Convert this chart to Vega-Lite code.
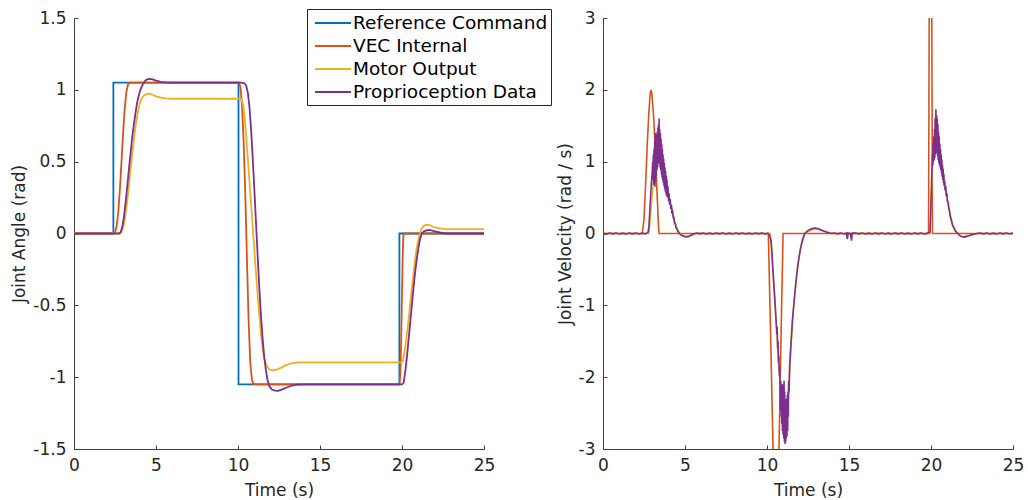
{
  "$schema": "https://vega.github.io/schema/vega-lite/v6.json",
  "background": "white",
  "padding": {"left": 10, "top": 8, "right": 5, "bottom": 5},
  "datasets": {
    "angle": [
      {"s": "Reference Command", "t": 0, "v": 0},
      {"s": "Reference Command", "t": 2.4, "v": 0},
      {"s": "Reference Command", "t": 2.401, "v": 1.05},
      {"s": "Reference Command", "t": 10.03, "v": 1.05},
      {"s": "Reference Command", "t": 10.031, "v": -1.05},
      {"s": "Reference Command", "t": 19.84, "v": -1.05},
      {"s": "Reference Command", "t": 19.841, "v": 0},
      {"s": "Reference Command", "t": 25, "v": 0},

      {"s": "VEC Internal", "t": 0, "v": 0},
      {"s": "VEC Internal", "t": 2.4, "v": 0},
      {"s": "VEC Internal", "t": 2.5, "v": 0.007},
      {"s": "VEC Internal", "t": 2.6, "v": 0.05},
      {"s": "VEC Internal", "t": 2.7, "v": 0.15},
      {"s": "VEC Internal", "t": 2.8, "v": 0.31},
      {"s": "VEC Internal", "t": 2.9, "v": 0.51},
      {"s": "VEC Internal", "t": 3.0, "v": 0.71},
      {"s": "VEC Internal", "t": 3.1, "v": 0.88},
      {"s": "VEC Internal", "t": 3.2, "v": 0.99},
      {"s": "VEC Internal", "t": 3.3, "v": 1.04},
      {"s": "VEC Internal", "t": 3.42, "v": 1.05},
      {"s": "VEC Internal", "t": 10.06, "v": 1.05},
      {"s": "VEC Internal", "t": 10.15, "v": 1.02},
      {"s": "VEC Internal", "t": 10.25, "v": 0.88},
      {"s": "VEC Internal", "t": 10.35, "v": 0.62},
      {"s": "VEC Internal", "t": 10.45, "v": 0.25},
      {"s": "VEC Internal", "t": 10.55, "v": -0.2},
      {"s": "VEC Internal", "t": 10.65, "v": -0.62},
      {"s": "VEC Internal", "t": 10.75, "v": -0.9},
      {"s": "VEC Internal", "t": 10.85, "v": -1.02},
      {"s": "VEC Internal", "t": 10.95, "v": -1.05},
      {"s": "VEC Internal", "t": 19.85, "v": -1.05},
      {"s": "VEC Internal", "t": 19.9, "v": -0.97},
      {"s": "VEC Internal", "t": 19.95, "v": -0.75},
      {"s": "VEC Internal", "t": 20.0, "v": -0.42},
      {"s": "VEC Internal", "t": 20.05, "v": -0.12},
      {"s": "VEC Internal", "t": 20.09, "v": 0},
      {"s": "VEC Internal", "t": 25, "v": 0},

      {"s": "Motor Output", "t": 0, "v": 0},
      {"s": "Motor Output", "t": 2.8, "v": 0},
      {"s": "Motor Output", "t": 2.9, "v": 0.01},
      {"s": "Motor Output", "t": 3.0, "v": 0.04},
      {"s": "Motor Output", "t": 3.1, "v": 0.1},
      {"s": "Motor Output", "t": 3.2, "v": 0.18},
      {"s": "Motor Output", "t": 3.3, "v": 0.28},
      {"s": "Motor Output", "t": 3.4, "v": 0.39},
      {"s": "Motor Output", "t": 3.5, "v": 0.5},
      {"s": "Motor Output", "t": 3.6, "v": 0.6},
      {"s": "Motor Output", "t": 3.7, "v": 0.7},
      {"s": "Motor Output", "t": 3.8, "v": 0.78},
      {"s": "Motor Output", "t": 3.9, "v": 0.85},
      {"s": "Motor Output", "t": 4.0, "v": 0.9},
      {"s": "Motor Output", "t": 4.1, "v": 0.935},
      {"s": "Motor Output", "t": 4.25, "v": 0.96},
      {"s": "Motor Output", "t": 4.45, "v": 0.972},
      {"s": "Motor Output", "t": 4.6, "v": 0.973},
      {"s": "Motor Output", "t": 4.8, "v": 0.966},
      {"s": "Motor Output", "t": 5.0, "v": 0.955},
      {"s": "Motor Output", "t": 5.3, "v": 0.945},
      {"s": "Motor Output", "t": 5.6, "v": 0.94},
      {"s": "Motor Output", "t": 6.0, "v": 0.938},
      {"s": "Motor Output", "t": 10.1, "v": 0.938},
      {"s": "Motor Output", "t": 10.2, "v": 0.933},
      {"s": "Motor Output", "t": 10.3, "v": 0.9},
      {"s": "Motor Output", "t": 10.4, "v": 0.82},
      {"s": "Motor Output", "t": 10.5, "v": 0.68},
      {"s": "Motor Output", "t": 10.6, "v": 0.52},
      {"s": "Motor Output", "t": 10.7, "v": 0.36},
      {"s": "Motor Output", "t": 10.8, "v": 0.2},
      {"s": "Motor Output", "t": 10.9, "v": 0.04},
      {"s": "Motor Output", "t": 11.0, "v": -0.12},
      {"s": "Motor Output", "t": 11.1, "v": -0.28},
      {"s": "Motor Output", "t": 11.2, "v": -0.43},
      {"s": "Motor Output", "t": 11.3, "v": -0.57},
      {"s": "Motor Output", "t": 11.4, "v": -0.7},
      {"s": "Motor Output", "t": 11.5, "v": -0.8},
      {"s": "Motor Output", "t": 11.6, "v": -0.87},
      {"s": "Motor Output", "t": 11.75, "v": -0.92},
      {"s": "Motor Output", "t": 11.9, "v": -0.945},
      {"s": "Motor Output", "t": 12.1, "v": -0.952},
      {"s": "Motor Output", "t": 12.3, "v": -0.95},
      {"s": "Motor Output", "t": 12.6, "v": -0.935},
      {"s": "Motor Output", "t": 12.9, "v": -0.918},
      {"s": "Motor Output", "t": 13.2, "v": -0.905},
      {"s": "Motor Output", "t": 13.6, "v": -0.898},
      {"s": "Motor Output", "t": 14.0, "v": -0.897},
      {"s": "Motor Output", "t": 19.95, "v": -0.897},
      {"s": "Motor Output", "t": 20.04, "v": -0.89},
      {"s": "Motor Output", "t": 20.1, "v": -0.86},
      {"s": "Motor Output", "t": 20.2, "v": -0.79},
      {"s": "Motor Output", "t": 20.3, "v": -0.7},
      {"s": "Motor Output", "t": 20.4, "v": -0.6},
      {"s": "Motor Output", "t": 20.5, "v": -0.49},
      {"s": "Motor Output", "t": 20.6, "v": -0.38},
      {"s": "Motor Output", "t": 20.7, "v": -0.28},
      {"s": "Motor Output", "t": 20.8, "v": -0.18},
      {"s": "Motor Output", "t": 20.9, "v": -0.1},
      {"s": "Motor Output", "t": 21.0, "v": -0.04},
      {"s": "Motor Output", "t": 21.1, "v": 0.0},
      {"s": "Motor Output", "t": 21.2, "v": 0.035},
      {"s": "Motor Output", "t": 21.35, "v": 0.055},
      {"s": "Motor Output", "t": 21.5, "v": 0.062},
      {"s": "Motor Output", "t": 21.65, "v": 0.06},
      {"s": "Motor Output", "t": 21.8, "v": 0.052},
      {"s": "Motor Output", "t": 22.0, "v": 0.042},
      {"s": "Motor Output", "t": 22.3, "v": 0.035},
      {"s": "Motor Output", "t": 22.7, "v": 0.031},
      {"s": "Motor Output", "t": 25, "v": 0.03},

      {"s": "Proprioception Data", "t": 0, "v": 0},
      {"s": "Proprioception Data", "t": 2.75, "v": 0},
      {"s": "Proprioception Data", "t": 2.85, "v": 0.01},
      {"s": "Proprioception Data", "t": 2.95, "v": 0.05},
      {"s": "Proprioception Data", "t": 3.05, "v": 0.12},
      {"s": "Proprioception Data", "t": 3.15, "v": 0.22},
      {"s": "Proprioception Data", "t": 3.25, "v": 0.33},
      {"s": "Proprioception Data", "t": 3.35, "v": 0.45},
      {"s": "Proprioception Data", "t": 3.45, "v": 0.56},
      {"s": "Proprioception Data", "t": 3.55, "v": 0.67},
      {"s": "Proprioception Data", "t": 3.65, "v": 0.76},
      {"s": "Proprioception Data", "t": 3.75, "v": 0.84},
      {"s": "Proprioception Data", "t": 3.85, "v": 0.91},
      {"s": "Proprioception Data", "t": 3.95, "v": 0.96},
      {"s": "Proprioception Data", "t": 4.05, "v": 1.0},
      {"s": "Proprioception Data", "t": 4.2, "v": 1.04},
      {"s": "Proprioception Data", "t": 4.35, "v": 1.065},
      {"s": "Proprioception Data", "t": 4.5, "v": 1.074},
      {"s": "Proprioception Data", "t": 4.65, "v": 1.076},
      {"s": "Proprioception Data", "t": 4.8, "v": 1.072},
      {"s": "Proprioception Data", "t": 5.0, "v": 1.064},
      {"s": "Proprioception Data", "t": 5.3, "v": 1.056},
      {"s": "Proprioception Data", "t": 5.6, "v": 1.052},
      {"s": "Proprioception Data", "t": 6.0, "v": 1.05},
      {"s": "Proprioception Data", "t": 10.2, "v": 1.05},
      {"s": "Proprioception Data", "t": 10.4, "v": 1.045},
      {"s": "Proprioception Data", "t": 10.5, "v": 1.03},
      {"s": "Proprioception Data", "t": 10.6, "v": 0.98},
      {"s": "Proprioception Data", "t": 10.7, "v": 0.88},
      {"s": "Proprioception Data", "t": 10.8, "v": 0.72},
      {"s": "Proprioception Data", "t": 10.9, "v": 0.52},
      {"s": "Proprioception Data", "t": 11.0, "v": 0.3},
      {"s": "Proprioception Data", "t": 11.1, "v": 0.07},
      {"s": "Proprioception Data", "t": 11.2, "v": -0.16},
      {"s": "Proprioception Data", "t": 11.3, "v": -0.38},
      {"s": "Proprioception Data", "t": 11.4, "v": -0.57},
      {"s": "Proprioception Data", "t": 11.5, "v": -0.73},
      {"s": "Proprioception Data", "t": 11.6, "v": -0.86},
      {"s": "Proprioception Data", "t": 11.7, "v": -0.95},
      {"s": "Proprioception Data", "t": 11.8, "v": -1.02},
      {"s": "Proprioception Data", "t": 11.9, "v": -1.06},
      {"s": "Proprioception Data", "t": 12.05, "v": -1.085},
      {"s": "Proprioception Data", "t": 12.25, "v": -1.094},
      {"s": "Proprioception Data", "t": 12.45, "v": -1.095},
      {"s": "Proprioception Data", "t": 12.7, "v": -1.085},
      {"s": "Proprioception Data", "t": 13.0, "v": -1.07},
      {"s": "Proprioception Data", "t": 13.3, "v": -1.058},
      {"s": "Proprioception Data", "t": 13.6, "v": -1.052},
      {"s": "Proprioception Data", "t": 14.0, "v": -1.05},
      {"s": "Proprioception Data", "t": 20.0, "v": -1.05},
      {"s": "Proprioception Data", "t": 20.1, "v": -1.04},
      {"s": "Proprioception Data", "t": 20.2, "v": -0.96},
      {"s": "Proprioception Data", "t": 20.3, "v": -0.86},
      {"s": "Proprioception Data", "t": 20.4, "v": -0.74},
      {"s": "Proprioception Data", "t": 20.5, "v": -0.62},
      {"s": "Proprioception Data", "t": 20.6, "v": -0.5},
      {"s": "Proprioception Data", "t": 20.7, "v": -0.38},
      {"s": "Proprioception Data", "t": 20.8, "v": -0.27},
      {"s": "Proprioception Data", "t": 20.9, "v": -0.18},
      {"s": "Proprioception Data", "t": 21.0, "v": -0.1},
      {"s": "Proprioception Data", "t": 21.1, "v": -0.04},
      {"s": "Proprioception Data", "t": 21.2, "v": 0.0},
      {"s": "Proprioception Data", "t": 21.35, "v": 0.015},
      {"s": "Proprioception Data", "t": 21.5, "v": 0.022},
      {"s": "Proprioception Data", "t": 21.65, "v": 0.025},
      {"s": "Proprioception Data", "t": 21.8, "v": 0.022},
      {"s": "Proprioception Data", "t": 22.0, "v": 0.015},
      {"s": "Proprioception Data", "t": 22.3, "v": 0.007},
      {"s": "Proprioception Data", "t": 22.7, "v": 0.0},
      {"s": "Proprioception Data", "t": 25, "v": 0.0}
    ],
    "vel": [
      {"s": "VEC Internal", "t": 0, "v": 0},
      {"s": "VEC Internal", "t": 2.4, "v": 0},
      {"s": "VEC Internal", "t": 2.5, "v": 0.2},
      {"s": "VEC Internal", "t": 2.6, "v": 0.7},
      {"s": "VEC Internal", "t": 2.7, "v": 1.25},
      {"s": "VEC Internal", "t": 2.8, "v": 1.7},
      {"s": "VEC Internal", "t": 2.88, "v": 1.95},
      {"s": "VEC Internal", "t": 2.93, "v": 2.0},
      {"s": "VEC Internal", "t": 2.98, "v": 1.95},
      {"s": "VEC Internal", "t": 3.08, "v": 1.65},
      {"s": "VEC Internal", "t": 3.18, "v": 1.2},
      {"s": "VEC Internal", "t": 3.28, "v": 0.65},
      {"s": "VEC Internal", "t": 3.38, "v": 0.12},
      {"s": "VEC Internal", "t": 3.42, "v": 0},
      {"s": "VEC Internal", "t": 10.08, "v": 0},
      {"s": "VEC Internal", "t": 10.2, "v": -1.2},
      {"s": "VEC Internal", "t": 10.37, "v": -3.0},
      {"s": "VEC Internal", "t": 10.5, "v": -4.4},
      {"s": "VEC Internal", "t": 10.56, "v": -4.8},
      {"s": "VEC Internal", "t": 10.62, "v": -4.5},
      {"s": "VEC Internal", "t": 10.73, "v": -3.0},
      {"s": "VEC Internal", "t": 10.85, "v": -1.5},
      {"s": "VEC Internal", "t": 10.98, "v": 0},
      {"s": "VEC Internal", "t": 19.85, "v": 0},
      {"s": "VEC Internal", "t": 19.97, "v": 8.75},
      {"s": "VEC Internal", "t": 20.09, "v": 0},
      {"s": "VEC Internal", "t": 25, "v": 0},

      {"s": "Motor Output", "t": 0, "v": 0},
      {"s": "Motor Output", "t": 2.8, "v": 0},
      {"s": "Motor Output", "t": 3.1, "v": 0.8},
      {"s": "Motor Output", "t": 3.4, "v": 1.25},
      {"s": "Motor Output", "t": 3.6, "v": 1.0},
      {"s": "Motor Output", "t": 3.8, "v": 0.72},
      {"s": "Motor Output", "t": 4.0, "v": 0.52},
      {"s": "Motor Output", "t": 4.2, "v": 0.35},
      {"s": "Motor Output", "t": 4.4, "v": 0.15},
      {"s": "Motor Output", "t": 4.6, "v": 0.03},
      {"s": "Motor Output", "t": 4.8, "v": -0.02},
      {"s": "Motor Output", "t": 5.0, "v": -0.045},
      {"s": "Motor Output", "t": 5.2, "v": -0.045},
      {"s": "Motor Output", "t": 5.4, "v": -0.025},
      {"s": "Motor Output", "t": 5.7, "v": 0},
      {"s": "Motor Output", "t": 10.2, "v": 0},
      {"s": "Motor Output", "t": 10.5, "v": -1.0},
      {"s": "Motor Output", "t": 10.7, "v": -1.75},
      {"s": "Motor Output", "t": 10.9, "v": -2.3},
      {"s": "Motor Output", "t": 11.1, "v": -2.5},
      {"s": "Motor Output", "t": 11.3, "v": -2.3},
      {"s": "Motor Output", "t": 11.45, "v": -1.6},
      {"s": "Motor Output", "t": 11.65, "v": -0.95},
      {"s": "Motor Output", "t": 11.85, "v": -0.5},
      {"s": "Motor Output", "t": 12.05, "v": -0.2},
      {"s": "Motor Output", "t": 12.3, "v": 0},
      {"s": "Motor Output", "t": 12.9, "v": 0.07},
      {"s": "Motor Output", "t": 13.5, "v": 0.03},
      {"s": "Motor Output", "t": 14.0, "v": 0},
      {"s": "Motor Output", "t": 19.94, "v": 0},
      {"s": "Motor Output", "t": 20.1, "v": 1.0},
      {"s": "Motor Output", "t": 20.3, "v": 1.35},
      {"s": "Motor Output", "t": 20.5, "v": 1.15},
      {"s": "Motor Output", "t": 20.7, "v": 0.88},
      {"s": "Motor Output", "t": 20.9, "v": 0.6},
      {"s": "Motor Output", "t": 21.1, "v": 0.35},
      {"s": "Motor Output", "t": 21.3, "v": 0.13},
      {"s": "Motor Output", "t": 21.5, "v": 0.03},
      {"s": "Motor Output", "t": 21.8, "v": -0.035},
      {"s": "Motor Output", "t": 22.0, "v": -0.05},
      {"s": "Motor Output", "t": 22.3, "v": -0.035},
      {"s": "Motor Output", "t": 22.8, "v": 0},
      {"s": "Motor Output", "t": 25, "v": 0},

      {"s": "Proprioception Data", "t": 0, "v": 0.006},
      {"s": "Proprioception Data", "t": 0.2, "v": -0.006},
      {"s": "Proprioception Data", "t": 0.4, "v": 0.007},
      {"s": "Proprioception Data", "t": 0.6, "v": -0.005},
      {"s": "Proprioception Data", "t": 0.8, "v": 0.006},
      {"s": "Proprioception Data", "t": 1.0, "v": -0.007},
      {"s": "Proprioception Data", "t": 1.2, "v": 0.005},
      {"s": "Proprioception Data", "t": 1.4, "v": -0.006},
      {"s": "Proprioception Data", "t": 1.6, "v": 0.007},
      {"s": "Proprioception Data", "t": 1.8, "v": -0.005},
      {"s": "Proprioception Data", "t": 2.0, "v": 0.006},
      {"s": "Proprioception Data", "t": 2.2, "v": -0.006},
      {"s": "Proprioception Data", "t": 2.4, "v": 0.005},
      {"s": "Proprioception Data", "t": 2.6, "v": -0.005},
      {"s": "Proprioception Data", "t": 2.75, "v": 0.02},
      {"s": "Proprioception Data", "t": 2.8, "v": 0.1},
      {"s": "Proprioception Data", "t": 2.85, "v": 0.3},
      {"s": "Proprioception Data", "t": 2.9, "v": 0.5},
      {"s": "Proprioception Data", "t": 2.95, "v": 0.7},
      {"s": "Proprioception Data", "t": 3.0, "v": 0.85},
      {"s": "Proprioception Data", "t": 3.03, "v": 1.0},
      {"s": "Proprioception Data", "t": 3.05, "v": 0.75},
      {"s": "Proprioception Data", "t": 3.07, "v": 1.1},
      {"s": "Proprioception Data", "t": 3.09, "v": 0.68},
      {"s": "Proprioception Data", "t": 3.11, "v": 1.18},
      {"s": "Proprioception Data", "t": 3.13, "v": 0.7},
      {"s": "Proprioception Data", "t": 3.15, "v": 1.28},
      {"s": "Proprioception Data", "t": 3.17, "v": 0.65},
      {"s": "Proprioception Data", "t": 3.19, "v": 1.4},
      {"s": "Proprioception Data", "t": 3.21, "v": 0.72},
      {"s": "Proprioception Data", "t": 3.23, "v": 1.35},
      {"s": "Proprioception Data", "t": 3.25, "v": 0.8},
      {"s": "Proprioception Data", "t": 3.27, "v": 1.38},
      {"s": "Proprioception Data", "t": 3.29, "v": 0.88},
      {"s": "Proprioception Data", "t": 3.31, "v": 1.42},
      {"s": "Proprioception Data", "t": 3.33, "v": 0.92},
      {"s": "Proprioception Data", "t": 3.35, "v": 1.48},
      {"s": "Proprioception Data", "t": 3.37, "v": 0.98},
      {"s": "Proprioception Data", "t": 3.39, "v": 1.52},
      {"s": "Proprioception Data", "t": 3.41, "v": 1.0},
      {"s": "Proprioception Data", "t": 3.42, "v": 1.6},
      {"s": "Proprioception Data", "t": 3.44, "v": 0.97},
      {"s": "Proprioception Data", "t": 3.46, "v": 1.45},
      {"s": "Proprioception Data", "t": 3.48, "v": 0.92},
      {"s": "Proprioception Data", "t": 3.5, "v": 1.4},
      {"s": "Proprioception Data", "t": 3.52, "v": 0.88},
      {"s": "Proprioception Data", "t": 3.54, "v": 1.32},
      {"s": "Proprioception Data", "t": 3.56, "v": 0.82},
      {"s": "Proprioception Data", "t": 3.58, "v": 1.25},
      {"s": "Proprioception Data", "t": 3.6, "v": 0.78},
      {"s": "Proprioception Data", "t": 3.62, "v": 1.18},
      {"s": "Proprioception Data", "t": 3.64, "v": 0.74},
      {"s": "Proprioception Data", "t": 3.66, "v": 1.1},
      {"s": "Proprioception Data", "t": 3.68, "v": 0.7},
      {"s": "Proprioception Data", "t": 3.7, "v": 1.04},
      {"s": "Proprioception Data", "t": 3.72, "v": 0.66},
      {"s": "Proprioception Data", "t": 3.74, "v": 0.98},
      {"s": "Proprioception Data", "t": 3.76, "v": 0.62},
      {"s": "Proprioception Data", "t": 3.78, "v": 0.92},
      {"s": "Proprioception Data", "t": 3.8, "v": 0.58},
      {"s": "Proprioception Data", "t": 3.82, "v": 0.87},
      {"s": "Proprioception Data", "t": 3.84, "v": 0.55},
      {"s": "Proprioception Data", "t": 3.86, "v": 0.8},
      {"s": "Proprioception Data", "t": 3.88, "v": 0.52},
      {"s": "Proprioception Data", "t": 3.9, "v": 0.75},
      {"s": "Proprioception Data", "t": 3.93, "v": 0.5},
      {"s": "Proprioception Data", "t": 3.96, "v": 0.66},
      {"s": "Proprioception Data", "t": 4.0, "v": 0.45},
      {"s": "Proprioception Data", "t": 4.03, "v": 0.56},
      {"s": "Proprioception Data", "t": 4.06, "v": 0.4},
      {"s": "Proprioception Data", "t": 4.1, "v": 0.48},
      {"s": "Proprioception Data", "t": 4.13, "v": 0.34},
      {"s": "Proprioception Data", "t": 4.17, "v": 0.4},
      {"s": "Proprioception Data", "t": 4.2, "v": 0.28},
      {"s": "Proprioception Data", "t": 4.24, "v": 0.3},
      {"s": "Proprioception Data", "t": 4.28, "v": 0.22},
      {"s": "Proprioception Data", "t": 4.32, "v": 0.22},
      {"s": "Proprioception Data", "t": 4.36, "v": 0.14},
      {"s": "Proprioception Data", "t": 4.4, "v": 0.14},
      {"s": "Proprioception Data", "t": 4.45, "v": 0.08},
      {"s": "Proprioception Data", "t": 4.5, "v": 0.06},
      {"s": "Proprioception Data", "t": 4.6, "v": 0.02},
      {"s": "Proprioception Data", "t": 4.7, "v": -0.01},
      {"s": "Proprioception Data", "t": 4.8, "v": -0.025},
      {"s": "Proprioception Data", "t": 4.9, "v": -0.035},
      {"s": "Proprioception Data", "t": 5.0, "v": -0.045},
      {"s": "Proprioception Data", "t": 5.1, "v": -0.04},
      {"s": "Proprioception Data", "t": 5.2, "v": -0.045},
      {"s": "Proprioception Data", "t": 5.3, "v": -0.03},
      {"s": "Proprioception Data", "t": 5.4, "v": -0.02},
      {"s": "Proprioception Data", "t": 5.5, "v": -0.01},
      {"s": "Proprioception Data", "t": 5.6, "v": 0.0},
      {"s": "Proprioception Data", "t": 5.75, "v": 0.007},
      {"s": "Proprioception Data", "t": 5.9, "v": -0.005},
      {"s": "Proprioception Data", "t": 6.1, "v": 0.006},
      {"s": "Proprioception Data", "t": 6.3, "v": -0.006},
      {"s": "Proprioception Data", "t": 6.5, "v": 0.005},
      {"s": "Proprioception Data", "t": 6.7, "v": -0.007},
      {"s": "Proprioception Data", "t": 6.9, "v": 0.006},
      {"s": "Proprioception Data", "t": 7.1, "v": -0.005},
      {"s": "Proprioception Data", "t": 7.3, "v": 0.007},
      {"s": "Proprioception Data", "t": 7.5, "v": -0.006},
      {"s": "Proprioception Data", "t": 7.7, "v": 0.005},
      {"s": "Proprioception Data", "t": 7.9, "v": -0.006},
      {"s": "Proprioception Data", "t": 8.1, "v": 0.006},
      {"s": "Proprioception Data", "t": 8.3, "v": -0.005},
      {"s": "Proprioception Data", "t": 8.5, "v": 0.007},
      {"s": "Proprioception Data", "t": 8.7, "v": -0.006},
      {"s": "Proprioception Data", "t": 8.9, "v": 0.005},
      {"s": "Proprioception Data", "t": 9.1, "v": -0.007},
      {"s": "Proprioception Data", "t": 9.3, "v": 0.006},
      {"s": "Proprioception Data", "t": 9.5, "v": -0.005},
      {"s": "Proprioception Data", "t": 9.7, "v": 0.006},
      {"s": "Proprioception Data", "t": 9.9, "v": -0.006},
      {"s": "Proprioception Data", "t": 10.05, "v": 0.005},
      {"s": "Proprioception Data", "t": 10.15, "v": -0.03},
      {"s": "Proprioception Data", "t": 10.25, "v": -0.1},
      {"s": "Proprioception Data", "t": 10.3, "v": -0.25},
      {"s": "Proprioception Data", "t": 10.35, "v": -0.45},
      {"s": "Proprioception Data", "t": 10.43, "v": -0.75},
      {"s": "Proprioception Data", "t": 10.5, "v": -1.0},
      {"s": "Proprioception Data", "t": 10.55, "v": -1.2},
      {"s": "Proprioception Data", "t": 10.6, "v": -1.4},
      {"s": "Proprioception Data", "t": 10.62, "v": -1.3},
      {"s": "Proprioception Data", "t": 10.65, "v": -1.6},
      {"s": "Proprioception Data", "t": 10.67, "v": -1.5},
      {"s": "Proprioception Data", "t": 10.7, "v": -1.8},
      {"s": "Proprioception Data", "t": 10.72, "v": -1.7},
      {"s": "Proprioception Data", "t": 10.75, "v": -1.98},
      {"s": "Proprioception Data", "t": 10.77, "v": -1.85},
      {"s": "Proprioception Data", "t": 10.8, "v": -2.2},
      {"s": "Proprioception Data", "t": 10.82, "v": -2.45},
      {"s": "Proprioception Data", "t": 10.84, "v": -2.05},
      {"s": "Proprioception Data", "t": 10.86, "v": -2.55},
      {"s": "Proprioception Data", "t": 10.88, "v": -2.1},
      {"s": "Proprioception Data", "t": 10.9, "v": -2.65},
      {"s": "Proprioception Data", "t": 10.92, "v": -2.1},
      {"s": "Proprioception Data", "t": 10.94, "v": -2.75},
      {"s": "Proprioception Data", "t": 10.96, "v": -2.15},
      {"s": "Proprioception Data", "t": 10.98, "v": -2.8},
      {"s": "Proprioception Data", "t": 11.0, "v": -2.1},
      {"s": "Proprioception Data", "t": 11.02, "v": -2.85},
      {"s": "Proprioception Data", "t": 11.04, "v": -2.05},
      {"s": "Proprioception Data", "t": 11.06, "v": -2.9},
      {"s": "Proprioception Data", "t": 11.08, "v": -2.2},
      {"s": "Proprioception Data", "t": 11.1, "v": -2.93},
      {"s": "Proprioception Data", "t": 11.12, "v": -2.3},
      {"s": "Proprioception Data", "t": 11.14, "v": -2.9},
      {"s": "Proprioception Data", "t": 11.16, "v": -2.35},
      {"s": "Proprioception Data", "t": 11.18, "v": -2.85},
      {"s": "Proprioception Data", "t": 11.2, "v": -2.3},
      {"s": "Proprioception Data", "t": 11.22, "v": -2.82},
      {"s": "Proprioception Data", "t": 11.24, "v": -2.25},
      {"s": "Proprioception Data", "t": 11.26, "v": -2.75},
      {"s": "Proprioception Data", "t": 11.28, "v": -2.2},
      {"s": "Proprioception Data", "t": 11.3, "v": -2.55},
      {"s": "Proprioception Data", "t": 11.32, "v": -2.05},
      {"s": "Proprioception Data", "t": 11.35, "v": -2.2},
      {"s": "Proprioception Data", "t": 11.38, "v": -1.85},
      {"s": "Proprioception Data", "t": 11.42, "v": -1.7},
      {"s": "Proprioception Data", "t": 11.47, "v": -1.5},
      {"s": "Proprioception Data", "t": 11.55, "v": -1.2},
      {"s": "Proprioception Data", "t": 11.65, "v": -0.95},
      {"s": "Proprioception Data", "t": 11.75, "v": -0.7},
      {"s": "Proprioception Data", "t": 11.85, "v": -0.5},
      {"s": "Proprioception Data", "t": 11.95, "v": -0.33},
      {"s": "Proprioception Data", "t": 12.05, "v": -0.2},
      {"s": "Proprioception Data", "t": 12.15, "v": -0.1},
      {"s": "Proprioception Data", "t": 12.3, "v": 0.0},
      {"s": "Proprioception Data", "t": 12.5, "v": 0.04},
      {"s": "Proprioception Data", "t": 12.7, "v": 0.065},
      {"s": "Proprioception Data", "t": 12.9, "v": 0.075},
      {"s": "Proprioception Data", "t": 13.1, "v": 0.07},
      {"s": "Proprioception Data", "t": 13.3, "v": 0.05},
      {"s": "Proprioception Data", "t": 13.5, "v": 0.03},
      {"s": "Proprioception Data", "t": 13.7, "v": 0.015},
      {"s": "Proprioception Data", "t": 13.9, "v": 0.0},
      {"s": "Proprioception Data", "t": 14.1, "v": 0.006},
      {"s": "Proprioception Data", "t": 14.3, "v": -0.005},
      {"s": "Proprioception Data", "t": 14.5, "v": 0.007},
      {"s": "Proprioception Data", "t": 14.7, "v": -0.006},
      {"s": "Proprioception Data", "t": 14.85, "v": 0.005},
      {"s": "Proprioception Data", "t": 14.9, "v": -0.08},
      {"s": "Proprioception Data", "t": 14.95, "v": 0.005},
      {"s": "Proprioception Data", "t": 15.1, "v": -0.005},
      {"s": "Proprioception Data", "t": 15.15, "v": -0.1},
      {"s": "Proprioception Data", "t": 15.2, "v": 0.005},
      {"s": "Proprioception Data", "t": 15.4, "v": 0.006},
      {"s": "Proprioception Data", "t": 15.6, "v": -0.005},
      {"s": "Proprioception Data", "t": 15.8, "v": 0.007},
      {"s": "Proprioception Data", "t": 16.0, "v": -0.006},
      {"s": "Proprioception Data", "t": 16.2, "v": 0.005},
      {"s": "Proprioception Data", "t": 16.4, "v": -0.007},
      {"s": "Proprioception Data", "t": 16.6, "v": 0.006},
      {"s": "Proprioception Data", "t": 16.8, "v": -0.005},
      {"s": "Proprioception Data", "t": 17.0, "v": 0.007},
      {"s": "Proprioception Data", "t": 17.2, "v": -0.006},
      {"s": "Proprioception Data", "t": 17.4, "v": 0.005},
      {"s": "Proprioception Data", "t": 17.6, "v": -0.007},
      {"s": "Proprioception Data", "t": 17.8, "v": 0.006},
      {"s": "Proprioception Data", "t": 18.0, "v": -0.005},
      {"s": "Proprioception Data", "t": 18.2, "v": 0.007},
      {"s": "Proprioception Data", "t": 18.4, "v": -0.006},
      {"s": "Proprioception Data", "t": 18.6, "v": 0.005},
      {"s": "Proprioception Data", "t": 18.8, "v": -0.007},
      {"s": "Proprioception Data", "t": 19.0, "v": 0.006},
      {"s": "Proprioception Data", "t": 19.2, "v": -0.005},
      {"s": "Proprioception Data", "t": 19.4, "v": 0.007},
      {"s": "Proprioception Data", "t": 19.6, "v": -0.006},
      {"s": "Proprioception Data", "t": 19.8, "v": 0.005},
      {"s": "Proprioception Data", "t": 19.94, "v": 0.02},
      {"s": "Proprioception Data", "t": 19.98, "v": 0.3},
      {"s": "Proprioception Data", "t": 20.02, "v": 0.6},
      {"s": "Proprioception Data", "t": 20.06, "v": 0.9},
      {"s": "Proprioception Data", "t": 20.09, "v": 1.1},
      {"s": "Proprioception Data", "t": 20.11, "v": 0.95},
      {"s": "Proprioception Data", "t": 20.13, "v": 1.25},
      {"s": "Proprioception Data", "t": 20.15, "v": 1.0},
      {"s": "Proprioception Data", "t": 20.17, "v": 1.35},
      {"s": "Proprioception Data", "t": 20.19, "v": 1.02},
      {"s": "Proprioception Data", "t": 20.21, "v": 1.45},
      {"s": "Proprioception Data", "t": 20.23, "v": 1.05},
      {"s": "Proprioception Data", "t": 20.25, "v": 1.6},
      {"s": "Proprioception Data", "t": 20.27, "v": 1.1},
      {"s": "Proprioception Data", "t": 20.3, "v": 1.73},
      {"s": "Proprioception Data", "t": 20.32, "v": 1.15},
      {"s": "Proprioception Data", "t": 20.34, "v": 1.65},
      {"s": "Proprioception Data", "t": 20.36, "v": 1.12},
      {"s": "Proprioception Data", "t": 20.38, "v": 1.6},
      {"s": "Proprioception Data", "t": 20.4, "v": 1.08},
      {"s": "Proprioception Data", "t": 20.42, "v": 1.52},
      {"s": "Proprioception Data", "t": 20.44, "v": 1.02},
      {"s": "Proprioception Data", "t": 20.46, "v": 1.42},
      {"s": "Proprioception Data", "t": 20.48, "v": 0.98},
      {"s": "Proprioception Data", "t": 20.5, "v": 1.35},
      {"s": "Proprioception Data", "t": 20.52, "v": 0.95},
      {"s": "Proprioception Data", "t": 20.54, "v": 1.25},
      {"s": "Proprioception Data", "t": 20.56, "v": 0.92},
      {"s": "Proprioception Data", "t": 20.58, "v": 1.18},
      {"s": "Proprioception Data", "t": 20.6, "v": 0.88},
      {"s": "Proprioception Data", "t": 20.62, "v": 1.1},
      {"s": "Proprioception Data", "t": 20.64, "v": 0.84},
      {"s": "Proprioception Data", "t": 20.66, "v": 1.03},
      {"s": "Proprioception Data", "t": 20.68, "v": 0.79},
      {"s": "Proprioception Data", "t": 20.7, "v": 0.96},
      {"s": "Proprioception Data", "t": 20.72, "v": 0.75},
      {"s": "Proprioception Data", "t": 20.74, "v": 0.9},
      {"s": "Proprioception Data", "t": 20.76, "v": 0.7},
      {"s": "Proprioception Data", "t": 20.78, "v": 0.83},
      {"s": "Proprioception Data", "t": 20.8, "v": 0.66},
      {"s": "Proprioception Data", "t": 20.83, "v": 0.74},
      {"s": "Proprioception Data", "t": 20.86, "v": 0.6},
      {"s": "Proprioception Data", "t": 20.9, "v": 0.66},
      {"s": "Proprioception Data", "t": 20.93, "v": 0.52},
      {"s": "Proprioception Data", "t": 20.97, "v": 0.56},
      {"s": "Proprioception Data", "t": 21.0, "v": 0.45},
      {"s": "Proprioception Data", "t": 21.04, "v": 0.44},
      {"s": "Proprioception Data", "t": 21.08, "v": 0.35},
      {"s": "Proprioception Data", "t": 21.12, "v": 0.32},
      {"s": "Proprioception Data", "t": 21.16, "v": 0.25},
      {"s": "Proprioception Data", "t": 21.2, "v": 0.22},
      {"s": "Proprioception Data", "t": 21.3, "v": 0.13},
      {"s": "Proprioception Data", "t": 21.4, "v": 0.07},
      {"s": "Proprioception Data", "t": 21.5, "v": 0.03},
      {"s": "Proprioception Data", "t": 21.6, "v": 0.01},
      {"s": "Proprioception Data", "t": 21.75, "v": -0.03},
      {"s": "Proprioception Data", "t": 21.9, "v": -0.045},
      {"s": "Proprioception Data", "t": 22.0, "v": -0.05},
      {"s": "Proprioception Data", "t": 22.15, "v": -0.04},
      {"s": "Proprioception Data", "t": 22.3, "v": -0.03},
      {"s": "Proprioception Data", "t": 22.5, "v": -0.015},
      {"s": "Proprioception Data", "t": 22.8, "v": 0.0},
      {"s": "Proprioception Data", "t": 23.0, "v": 0.006},
      {"s": "Proprioception Data", "t": 23.2, "v": -0.005},
      {"s": "Proprioception Data", "t": 23.4, "v": 0.007},
      {"s": "Proprioception Data", "t": 23.6, "v": -0.006},
      {"s": "Proprioception Data", "t": 23.8, "v": 0.005},
      {"s": "Proprioception Data", "t": 24.0, "v": -0.007},
      {"s": "Proprioception Data", "t": 24.2, "v": 0.006},
      {"s": "Proprioception Data", "t": 24.4, "v": -0.005},
      {"s": "Proprioception Data", "t": 24.6, "v": 0.007},
      {"s": "Proprioception Data", "t": 24.8, "v": -0.006},
      {"s": "Proprioception Data", "t": 25.0, "v": 0.005}
    ]
  },
  "hconcat": [
    {
      "width": 410,
      "height": 431,
      "data": {"name": "angle"},
      "mark": {"type": "line", "strokeWidth": 1.8, "clip": true},
      "encoding": {
        "x": {"field": "t", "type": "quantitative", "scale": {"domain": [0, 25], "nice": false, "zero": false}, "axis": {"values": [0, 5, 10, 15, 20, 25], "title": "Time (s)", "labelExpr": "'' + datum.value"}},
        "y": {"field": "v", "type": "quantitative", "scale": {"domain": [-1.5, 1.5], "nice": false}, "axis": {"values": [-1.5, -1, -0.5, 0, 0.5, 1, 1.5], "title": "Joint Angle (rad)", "labelExpr": "'' + datum.value"}},
        "color": {
          "field": "s", "type": "nominal",
          "scale": {"domain": ["Reference Command", "VEC Internal", "Motor Output", "Proprioception Data"], "range": ["#0072BD", "#D95319", "#EDB120", "#7E2F8E"]},
          "legend": {"title": null, "orient": "none", "legendX": 233, "legendY": -9}
        }
      }
    },
    {
      "width": 410,
      "height": 431,
      "data": {"name": "vel"},
      "mark": {"type": "line", "strokeWidth": 1.6, "clip": true},
      "encoding": {
        "x": {"field": "t", "type": "quantitative", "scale": {"domain": [0, 25], "nice": false, "zero": false}, "axis": {"values": [0, 5, 10, 15, 20, 25], "title": "Time (s)", "labelExpr": "'' + datum.value"}},
        "y": {"field": "v", "type": "quantitative", "scale": {"domain": [-3, 3], "nice": false}, "axis": {"values": [-3, -2, -1, 0, 1, 2, 3], "title": "Joint Velocity (rad / s)", "labelExpr": "'' + datum.value"}},
        "color": {
          "field": "s", "type": "nominal",
          "scale": {"domain": ["VEC Internal", "Motor Output", "Proprioception Data"], "range": ["#D95319", "#EDB120", "#7E2F8E"]},
          "legend": null
        }
      }
    }
  ],
  "spacing": 4,
  "resolve": {"scale": {"color": "independent", "x": "independent", "y": "independent"}, "legend": {"color": "independent"}},
  "config": {
    "view": {"stroke": null},
    "font": "DejaVu Sans",
    "axis": {
      "grid": false,
      "domainColor": "#404040",
      "domainWidth": 1,
      "tickColor": "#404040",
      "tickSize": -4,
      "tickWidth": 1,
      "labelColor": "#262626",
      "labelFontSize": 17,
      "labelFlush": false,
      "labelPadding": 12,
      "titleFontSize": 17,
      "titleFontWeight": "normal",
      "titleColor": "#262626"
    },
    "axisX": {"titlePadding": 9},
    "legend": {
      "symbolType": "M-1.8,0H1.8",
      "symbolSize": 400,
      "symbolStrokeWidth": 2,
      "symbolOffset": 12,
      "labelFontSize": 18.5,
      "labelColor": "#000000",
      "strokeColor": "#262626",
      "fillColor": "white",
      "padding": 3,
      "rowPadding": 2,
      "labelOffset": 9,
      "labelLimit": 400
    }
  }
}
